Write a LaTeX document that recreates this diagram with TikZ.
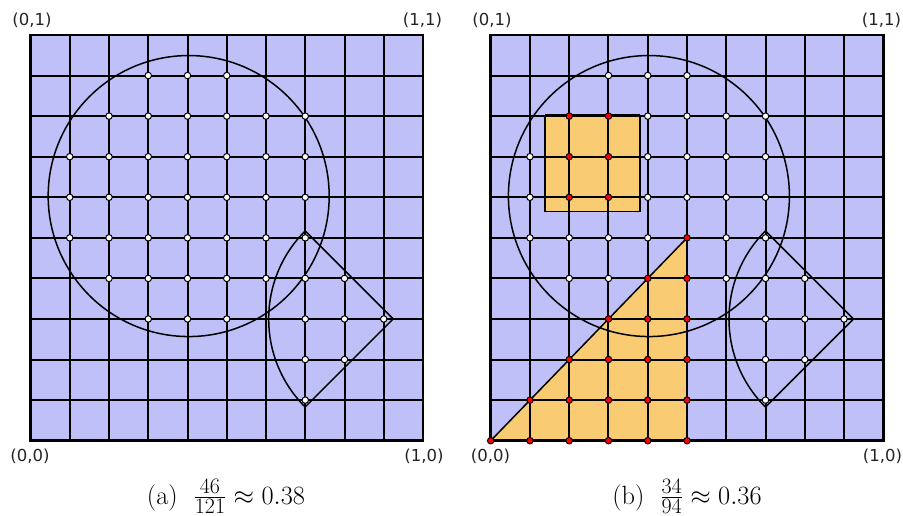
\documentclass[tikz,border=0pt]{standalone}
\usepackage{fontspec}
\newfontfamily\lblfont{DejaVu Sans}
\definecolor{lav}{RGB}{192,192,248}
\definecolor{org}{RGB}{249,203,115}
\definecolor{lblgrey}{RGB}{35,35,35}
\tikzset{
  gridln/.style={line width=2pt},
  frameln/.style={line width=2.8pt},
  shapeln/.style={line width=1.5pt},
  wpt/.style={circle, draw=black, fill=white, line width=1pt, inner sep=0pt, minimum size=6.5pt},
  rpt/.style={circle, draw=black, fill=red, line width=1pt, inner sep=0pt, minimum size=6.5pt},
  cornerlbl/.style={font=\lblfont\fontsize{16.5}{18}\selectfont, text=lblgrey, inner sep=0pt},
  captxt/.style={font=\fontsize{24.88}{30}\selectfont, inner sep=0pt}
}
\newcommand\mypanelgrid{%
  \foreach \k in {1,...,9} {
    \draw[gridln] (\k,0) -- (\k,10);
    \draw[gridln] (0,\k) -- (10,\k);
  }
}
\newcommand\mypanelshapes{%
  \draw[shapeln] (4.03,6.03) circle[radius=140.5pt];
  \coordinate (sc) at (9.24,3);
  \draw[shapeln] (sc) -- ++(135:124.5pt) arc[start angle=135, end angle=225, radius=124.5pt] -- cycle;
}
\begin{document}
\begin{tikzpicture}[x=1pt,y=1pt]
\useasboundingbox (0,0) rectangle (903,516);
% ---------- left panel ----------
\begin{scope}[shift={(30.5pt,75.3pt)}, x=39.25pt, y=40.57pt]
  \fill[lav] (0,0) rectangle (10,10);
  \mypanelgrid
  \draw[frameln] (0,0) rectangle (10,10);
  \mypanelshapes
  \foreach \j/\lst in {9/{3,4,5}, 8/{2,3,4,5,6,7}, 7/{1,2,3,4,5,6,7}, 6/{1,2,3,4,5,6,7},
                       5/{1,2,3,4,5,6,7}, 4/{2,3,4,5,6,7,8}, 3/{3,4,5,7,8,9}, 2/{7,8}, 1/{7}} {
    \foreach \i in \lst { \node[wpt] (la-\i-\j) at (\i,\j) {}; }
  }
\end{scope}
% ---------- right panel ----------
\begin{scope}[shift={(490.7pt,75.3pt)}, x=39.26pt, y=40.57pt]
  \fill[lav] (0,0) rectangle (10,10);
  \fill[org] (0,0) -- (5,0) -- (5,5) -- cycle;
  \fill[org] (1.383,5.645) rectangle (3.803,8.01);
  \mypanelgrid
  \draw[frameln] (0,0) rectangle (10,10);
  \mypanelshapes
  \draw[shapeln] (0,0) -- (5,5);
  \draw[line width=1.3pt] (1.383,5.645) rectangle (3.803,8.01);
  \draw[line width=2.6pt] (1.383,8.01) -- (3.803,8.01);
  \foreach \j/\lst in {9/{3,4,5}, 8/{4,5,6,7}, 7/{1,4,5,6,7}, 6/{1,4,5,6,7},
                       5/{1,2,3,4,6,7}, 4/{2,3,6,7,8}, 3/{7,8,9}, 2/{7,8}, 1/{7}} {
    \foreach \i in \lst { \node[wpt] (rb-\i-\j) at (\i,\j) {}; }
  }
  \foreach \j/\lst in {8/{2,3}, 7/{2,3}, 6/{2,3}, 5/{5}, 4/{4,5}, 3/{3,4,5},
                       2/{2,3,4,5}, 1/{1,2,3,4,5}, 0/{0,1,2,3,4,5}} {
    \foreach \i in \lst { \node[rpt] (rr-\i-\j) at (\i,\j) {}; }
  }
\end{scope}
% ---------- corner labels ----------
\node[cornerlbl] (l01) at (32,496) {(0,1)};
\node[cornerlbl] (l11) at (422.5,496) {(1,1)};
\node[cornerlbl] (l00) at (30,60) {(0,0)};
\node[cornerlbl] (l10) at (424,60) {(1,0)};
\node[cornerlbl] (r01) at (492,496) {(0,1)};
\node[cornerlbl] (r11) at (881.5,496) {(1,1)};
\node[cornerlbl] (r00) at (490.5,60) {(0,0)};
\node[cornerlbl] (r10) at (882.5,60) {(1,0)};
% ---------- captions ----------
\node[captxt] (capa) at (226,19.5) {\scalebox{1.06}{(a)\hspace{0.6em}$\frac{46}{121}\approx 0.38$}};
\node[captxt] (capb) at (687,19.5) {\scalebox{1.06}{(b)\hspace{0.6em}$\frac{34}{94}\approx 0.36$}};
\end{tikzpicture}
\end{document}
